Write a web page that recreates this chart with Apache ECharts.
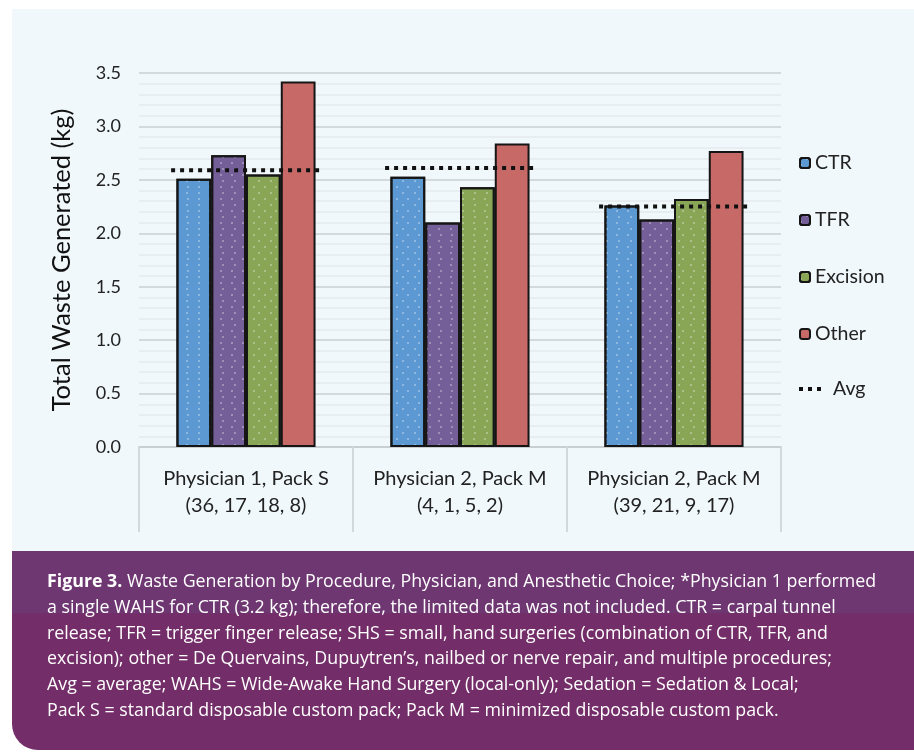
<!DOCTYPE html>
<html>
<head>
<meta charset="utf-8">
<script src="https://cdn.jsdelivr.net/npm/echarts@6/dist/echarts.min.js"></script>
<style>
  html, body { margin: 0; padding: 0; background: #ffffff; }
  #chart { width: 914px; height: 752px; }
</style>
</head>
<body>
<div id="chart"></div>
<script>
// Group labels: physician/pack, with case counts (CTR, TFR, Excision, Other)
const categories = [
  'Physician 1, Pack S\n(36, 17, 18, 8)',
  'Physician 2, Pack M\n(4, 1, 5, 2)',
  'Physician 2, Pack M\n(39, 21, 9, 17)'
];
// Total waste generated per procedure (kg)
const ctr      = [2.51, 2.53, 2.26];
const tfr      = [2.73, 2.10, 2.13];
const excision = [2.55, 2.43, 2.32];
const other    = [3.42, 2.84, 2.77];
const avg      = [2.59, 2.61, 2.25];
const yTicks   = [0, 0.5, 1.0, 1.5, 2.0, 2.5, 3.0, 3.5];

const captionLines = [
  '{b|Figure 3.} Waste Generation by Procedure, Physician, and Anesthetic Choice; *Physician 1 performed',
  'a single WAHS for CTR (3.2 kg); therefore, the limited data was not included. CTR = carpal tunnel',
  'release; TFR = trigger finger release; SHS = small, hand surgeries (combination of CTR, TFR, and',
  'excision); other = De Quervains, Dupuytren\u2019s, nailbed or nerve repair, and multiple procedures;',
  'Avg = average; WAHS = Wide-Awake Hand Surgery (local-only); Sedation = Sedation & Local;',
  'Pack S = standard disposable custom pack; Pack M = minimized disposable custom pack.'
];

const FONT = 'Lato, "Open Sans", sans-serif';
const CAPTION_FONT = '"Open Sans", "Noto Sans", sans-serif';
const CAPTION_SIZE = 17.8;

const dots = {
  symbol: 'rect',
  symbolSize: 1,
  color: 'rgba(255,255,255,0.3)',
  dashArrayX: [[1.5, 9], [0, 5.25, 1.5, 3.75]],
  dashArrayY: [1.5, 3.5],
  rotation: 0
};

function barSeries(name, values, color, withDots) {
  return {
    name: name,
    type: 'bar',
    data: values,
    barGap: '0%',
    barCategoryGap: '35%',
    itemStyle: Object.assign({
      color: color,
      borderColor: '#151515',
      borderWidth: 2
    }, withDots ? { decal: dots } : {}),
    emphasis: { disabled: true }
  };
}

const chart = echarts.init(document.getElementById('chart'), null, { renderer: 'canvas' });

chart.setOption({
  animation: false,
  textStyle: { fontFamily: FONT },
  graphic: [
    {
      type: 'rect', z: -10, silent: true,
      shape: { x: 12, y: 9, width: 902, height: 542 },
      style: { fill: '#F0F8FC' }
    },
    {
      type: 'rect', z: -10, silent: true,
      shape: { x: 12, y: 551, width: 902, height: 199, r: [0, 0, 0, 26] },
      style: {
        fill: new echarts.graphic.LinearGradient(0, 0, 0, 1, [
          { offset: 0, color: '#6F3772' },
          { offset: 0.31, color: '#6F3772' },
          { offset: 0.315, color: '#732D68' },
          { offset: 1, color: '#732D68' }
        ])
      }
    },
    {
      type: 'text', z: 10, silent: true,
      left: 47, top: 569,
      style: {
        text: captionLines.join('\n'),
        fill: '#ffffff',
        font: CAPTION_SIZE + 'px ' + CAPTION_FONT,
        lineHeight: 25.8,
        rich: {
          b: { fontWeight: 'bold', fontSize: CAPTION_SIZE, fontFamily: CAPTION_FONT, fill: '#ffffff', lineHeight: 25.8 }
        }
      }
    }
  ],
  legend: [
    {
      orient: 'vertical',
      left: 799, top: 153,
      padding: 0,
      itemWidth: 10, itemHeight: 10,
      itemGap: 37,
      selectedMode: false,
      data: ['CTR', 'TFR', 'Excision', 'Other'],
      textStyle: { fontSize: 19.5, lineHeight: 20, color: '#222', fontFamily: FONT }
    },
    {
      orient: 'vertical',
      left: 799, top: 379,
      padding: 0,
      itemWidth: 22, itemHeight: 4,
      selectedMode: false,
      data: [{ name: 'Avg', icon: 'path://M0,0h4v4h-4z M9,0h4v4h-4z M18,0h4v4h-4z' }],
      textStyle: { fontSize: 19.5, lineHeight: 20, color: '#222', fontFamily: FONT, padding: [0, 0, 0, 7] }
    }
  ],
  grid: { left: 139, right: 133, top: 73, bottom: 305, containLabel: false },
  xAxis: {
    type: 'category',
    data: categories,
    boundaryGap: true,
    axisLine: { show: true, lineStyle: { color: '#C9CED1', width: 2 } },
    axisTick: { show: true, length: 85, lineStyle: { color: '#D3D8DB', width: 2 } },
    axisLabel: {
      fontSize: 20, lineHeight: 27, color: '#222', margin: 18,
      fontFamily: FONT, interval: 0
    },
    splitLine: { show: false }
  },
  yAxis: {
    type: 'value',
    min: 0, max: 3.5, interval: 0.5,
    name: 'Total Waste Generated (kg)',
    nameLocation: 'middle',
    nameGap: 64,
    nameTextStyle: { fontSize: 25.5, color: '#111', fontFamily: FONT },
    axisLine: { show: false },
    axisTick: { show: false },
    axisLabel: {
      fontSize: 18, color: '#222', margin: 18, fontFamily: FONT,
      formatter: function (v) {
        const t = yTicks.find(function (k) { return Math.abs(k - v) < 1e-9; });
        return (t !== undefined ? t : v).toFixed(1);
      }
    },
    splitLine: { show: true, lineStyle: { color: '#D4D9DC', width: 2 } },
    minorTick: { show: false, splitNumber: 5 },
    minorSplitLine: { show: true, lineStyle: { color: '#E3E9EC', width: 1.5 } }
  },
  series: [
    barSeries('CTR', ctr, '#5C99D2', true),
    barSeries('TFR', tfr, '#745F98', true),
    barSeries('Excision', excision, '#88A656', true),
    barSeries('Other', other, '#C76A67', false),
    {
      name: 'Avg',
      type: 'custom',
      z: 5,
      itemStyle: { color: '#111' },
      data: avg.map(function (v, i) { return [i, v]; }),
      encode: { x: 0, y: 1 },
      renderItem: function (params, api) {
        const p = api.coord([api.value(0), api.value(1)]);
        const band = api.size([1, 0])[0];
        const half = band * 0.35;
        return {
          type: 'line',
          shape: { x1: p[0] - half, y1: p[1], x2: p[0] + half, y2: p[1] },
          style: { stroke: '#111', lineWidth: 4, lineDash: [4, 5] }
        };
      }
    }
  ]
});
</script>
</body>
</html>
